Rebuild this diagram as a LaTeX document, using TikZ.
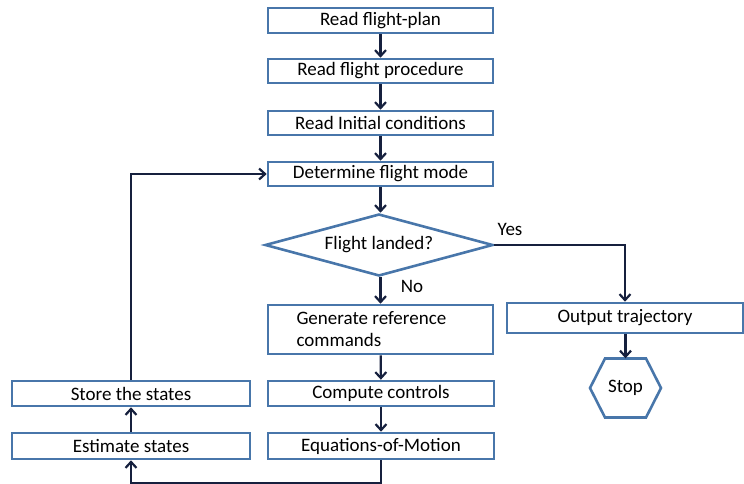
\documentclass[tikz,border=0pt]{standalone}
\usepackage{fontspec}
\setmainfont{Carlito}
\usetikzlibrary{shapes.geometric,arrows.meta,calc}
\definecolor{boxblue}{RGB}{72,118,170}
\definecolor{arrowdark}{RGB}{22,32,62}
\tikzset{
  x=1pt,y=-1pt,
  every node/.style={font=\fontsize{19}{22}\selectfont},
  box/.style={draw=boxblue,line width=2.6pt,rectangle,inner sep=0pt,fill=white},
  decision/.style={draw=boxblue,line width=2.6pt,diamond,aspect=3.68,inner sep=0pt,minimum width=228pt,minimum height=62pt},
  conn/.style={draw=arrowdark,line width=2.2pt,-{Straight Barb[length=6pt,width=11pt,line width=2.2pt]}},
  lbl/.style={inner sep=0pt}
}
\begin{document}
\begin{tikzpicture}
\useasboundingbox (0,0) rectangle (744,484);
\node[box,minimum width=225pt,minimum height=25pt] (fp) at (380.5,20.5) {Read flight-plan};
\node[box,minimum width=225pt,minimum height=24pt] (proc) at (380.5,71) {Read flight procedure};
\node[box,minimum width=225pt,minimum height=24pt] (init) at (380.5,123) {Read Initial conditions};
\node[box,minimum width=225pt,minimum height=24pt] (mode) at (380.5,174) {Determine flight mode};
\node[decision] (dia) at (379,245) {Flight landed?};
\node[box,minimum width=225pt,minimum height=49pt,text width=168pt,align=flush left] (gen) at (380.5,329.5) {Generate reference\\commands};
\node[box,minimum width=236pt,minimum height=30pt] (out) at (625,318) {Output trajectory};
\node[inner sep=0pt,minimum width=71pt,minimum height=59pt] (stop) at (625.5,388) {Stop};
\draw[draw=boxblue,line width=2.6pt,line join=miter] ($(stop.center)+(-35.5,0)$) -- ++(15,-29.5) -- ++(41,0) -- ++(15,29.5) -- ++(-15,29.5) -- ++(-41,0) -- cycle;
\node[box,minimum width=238pt,minimum height=25pt] (store) at (131,393.5) {Store the states};
\node[box,minimum width=226pt,minimum height=25pt] (comp) at (381,393.5) {Compute controls};
\node[box,minimum width=238pt,minimum height=26pt] (est) at (131,446) {Estimate states};
\node[box,minimum width=226pt,minimum height=26pt] (eom) at (381,446) {Equations-of-Motion};
\node[lbl] (yes) at (510,229) {Yes};
\node[lbl] (no) at (412,286) {No};
\coordinate (bot) at (381,483);
\draw[conn] (fp) -- (proc);
\draw[conn] (proc) -- (init);
\draw[conn] (init) -- (mode);
\draw[conn] (mode.south) -- (mode.south |- dia.north);
\draw[conn] (dia.south -| gen.north) -- (gen.north);
\draw[conn] (dia.east) -| (out.north);
\draw[conn] (out.south -| stop.north) -- (stop.north);
\draw[conn] (gen) -- (comp);
\draw[conn] (comp) -- (eom);
\draw[conn] (eom.south) -- (bot) -| (est.south);
\draw[conn] (est) -- (store);
\draw[conn] (store.north) |- (mode.west);
\end{tikzpicture}
\end{document}
